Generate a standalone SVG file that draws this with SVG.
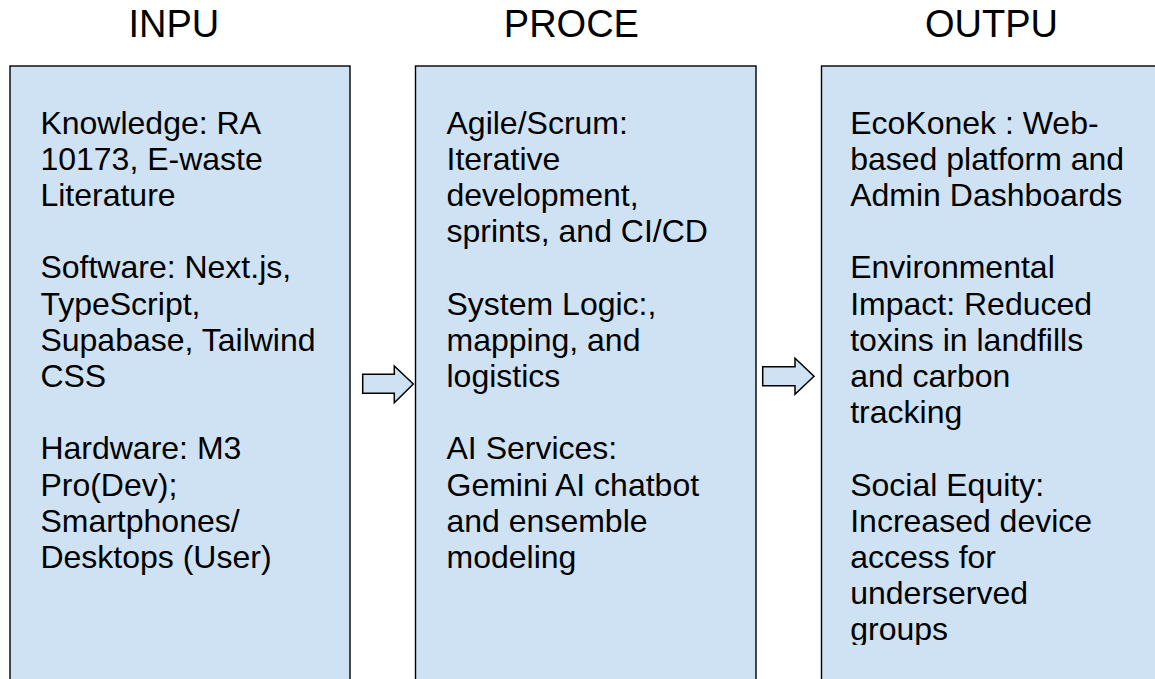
<svg xmlns="http://www.w3.org/2000/svg" width="1155" height="679" viewBox="0 0 1155 679">
  <style>
    .box { fill: #cfe2f3; stroke: #000; stroke-width: 1.4; }
    .title { font-family: "Liberation Sans", Arial, sans-serif; font-size: 38px; fill: #000; }
    .body { font-family: "Liberation Sans", Arial, sans-serif; font-size: 32px; fill: #000; }
    .arrow { fill: #cfe2f3; stroke: #000; stroke-width: 1.5; stroke-linejoin: miter; }
  </style>
  <defs>
    <clipPath id="titleClip"><rect x="0" y="0" width="1155" height="37.6"/></clipPath>
    <clipPath id="outClip"><rect x="821" y="66" width="334" height="579"/></clipPath>
  </defs>
  <rect x="0" y="0" width="1155" height="679" fill="#fff"/>

  <g id="titles" clip-path="url(#titleClip)">
    <text class="title" x="128.4" y="37">INPU</text>
    <text class="title" x="503.8" y="37">PROCE</text>
    <text class="title" x="925" y="37">OUTPU</text>
  </g>

  <g id="input">
    <rect class="box" x="10" y="66" width="340" height="640"/>
    <text class="body">
      <tspan x="40.4" y="133.5">Knowledge: RA</tspan>
      <tspan x="40.4" y="169.7">10173, E-waste</tspan>
      <tspan x="40.4" y="205.9">Literature</tspan>
      <tspan x="40.4" y="278.3">Software: Next.js,</tspan>
      <tspan x="40.4" y="314.5">TypeScript,</tspan>
      <tspan x="40.4" y="350.7">Supabase, Tailwind</tspan>
      <tspan x="40.4" y="386.9">CSS</tspan>
      <tspan x="40.4" y="459.3">Hardware: M3</tspan>
      <tspan x="40.4" y="495.5">Pro(Dev);</tspan>
      <tspan x="40.4" y="531.7">Smartphones/</tspan>
      <tspan x="40.4" y="567.9">Desktops (User)</tspan>
    </text>
  </g>

  <g id="process">
    <rect class="box" x="415.5" y="66" width="340.5" height="640"/>
    <text class="body">
      <tspan x="446.5" y="133.5">Agile/Scrum:</tspan>
      <tspan x="446.5" y="169.7">Iterative</tspan>
      <tspan x="446.5" y="205.9">development,</tspan>
      <tspan x="446.5" y="242.1">sprints, and CI/CD</tspan>
      <tspan x="446.5" y="314.5">System Logic:,</tspan>
      <tspan x="446.5" y="350.7">mapping, and</tspan>
      <tspan x="446.5" y="386.9">logistics</tspan>
      <tspan x="446.5" y="459.3">AI Services:</tspan>
      <tspan x="446.5" y="495.5">Gemini AI chatbot</tspan>
      <tspan x="446.5" y="531.7">and ensemble</tspan>
      <tspan x="446.5" y="567.9">modeling</tspan>
    </text>
  </g>

  <g id="output">
    <rect class="box" x="821.5" y="66" width="360" height="640"/>
    <text class="body" clip-path="url(#outClip)">
      <tspan x="850.2" y="133.5">EcoKonek : Web-</tspan>
      <tspan x="850.2" y="169.7">based platform and</tspan>
      <tspan x="850.2" y="205.9">Admin Dashboards</tspan>
      <tspan x="850.2" y="278.3">Environmental</tspan>
      <tspan x="850.2" y="314.5">Impact: Reduced</tspan>
      <tspan x="850.2" y="350.7">toxins in landfills</tspan>
      <tspan x="850.2" y="386.9">and carbon</tspan>
      <tspan x="850.2" y="423.1">tracking</tspan>
      <tspan x="850.2" y="495.5">Social Equity:</tspan>
      <tspan x="850.2" y="531.7">Increased device</tspan>
      <tspan x="850.2" y="567.9">access for</tspan>
      <tspan x="850.2" y="604.1">underserved</tspan>
      <tspan x="850.2" y="640.3">groups</tspan>
    </text>
  </g>

  <g id="connectors">
    <polygon class="arrow" points="362.7,374.3 394.3,374.3 394.3,366 413.3,384 394.3,402.7 394.3,393.3 362.7,393.3"/>
    <polygon class="arrow" points="762.7,366.7 795,366.7 795,358.3 814,376.3 795,394.3 795,385.7 762.7,385.7"/>
  </g>
</svg>
